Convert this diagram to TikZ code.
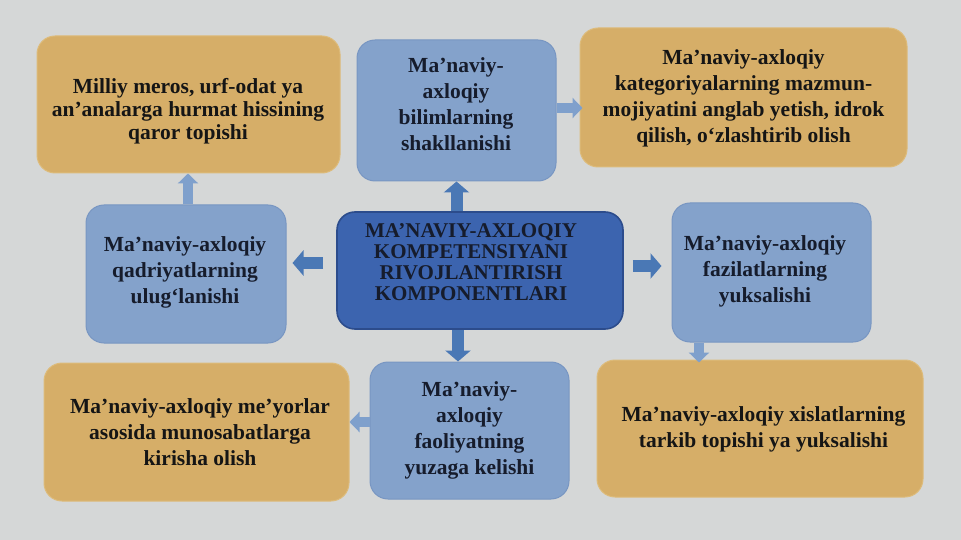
\documentclass[tikz,border=0pt]{standalone}
\usepackage{fontspec}
\setmainfont{Liberation Serif}
\usetikzlibrary{arrows.meta,calc}
\definecolor{bg}{HTML}{D5D7D7}
\definecolor{orangefill}{HTML}{D6AE68}
\definecolor{orangeline}{HTML}{DDBB7A}
\definecolor{bluefill}{HTML}{84A2CB}
\definecolor{blueline}{HTML}{7896C2}
\definecolor{centerfill}{HTML}{3C64AF}
\definecolor{centerline}{HTML}{2C4C8C}
\definecolor{darkarrow}{HTML}{4A78B5}
\definecolor{lightarrow}{HTML}{7FA0CC}
\definecolor{ink}{HTML}{151515}
\definecolor{navyink}{HTML}{161C2C}
\tikzset{
  box/.style={rounded corners=18pt, inner sep=0pt, line width=1pt},
  orangebox/.style={box, fill=orangefill, draw=orangeline},
  bluebox/.style={box, fill=bluefill, draw=blueline},
  centerbox/.style={box, fill=centerfill, draw=centerline, line width=1.6pt},
  txt/.style={align=center, inner sep=0pt, font=\bfseries\fontsize{21.5}{26}\selectfont},
  otxt/.style={txt, text=ink},
  btxt/.style={txt, text=navyink},
  darkarr/.style={draw=darkarrow, line width=12pt, -{Triangle[width=25pt,length=11pt]}},
  lightarr/.style={draw=lightarrow, line width=10pt, -{Triangle[width=20pt,length=10pt]}},
}
\begin{document}
\begin{tikzpicture}[x=1pt,y=-1pt]
\useasboundingbox (0,0) rectangle (961,540);
\fill[bg] (0,0) rectangle (961,540);

% boxes
\node[orangebox, minimum width=303pt, minimum height=137pt] (tl) at (188.5,104.5) {};
\node[bluebox, minimum width=199pt, minimum height=141pt] (top) at (456.5,110.5) {};
\node[orangebox, minimum width=327pt, minimum height=139pt] (tr) at (743.5,97.5) {};
\node[centerbox, minimum width=286pt, minimum height=117pt] (c) at (480,270.5) {};
\node[bluebox, minimum width=200pt, minimum height=138pt] (left) at (186,274) {};
\node[bluebox, minimum width=199pt, minimum height=139pt] (right) at (771.5,272.5) {};
\node[bluebox, minimum width=199pt, minimum height=137pt] (bot) at (469.5,430.5) {};
\node[orangebox, minimum width=305pt, minimum height=138pt] (bl) at (196.5,432) {};
\node[orangebox, minimum width=326pt, minimum height=137pt] (br) at (760,428.5) {};

% texts
\node[otxt, font=\bfseries\fontsize{21.5}{23}\selectfont] (tlt) at (188,111) {Milliy meros, urf-odat ya\\an’analarga hurmat hissining\\qaror topishi};
\node[btxt] (topt) at (456,104) {Ma’naviy-\\axloqiy\\bilimlarning\\shakllanishi};
\node[otxt] (trt) at (743.5,98) {Ma’naviy-axloqiy\\kategoriyalarning mazmun-\\mojiyatini anglab yetish, idrok\\qilish, o‘zlashtirib olish};
\node[txt, text=navyink, font=\bfseries\fontsize{21}{21}\selectfont] (ct) at (471,262) {MA’NAVIY-AXLOQIY\\KOMPETENSIYANI\\RIVOJLANTIRISH\\KOMPONENTLARI};
\node[btxt] (leftt) at (185,272) {Ma’naviy-axloqiy\\qadriyatlarning\\ulug‘lanishi};
\node[btxt] (rightt) at (765,271) {Ma’naviy-axloqiy\\fazilatlarning\\yuksalishi};
\node[btxt] (bott) at (469.5,430) {Ma’naviy-\\axloqiy\\faoliyatning\\yuzaga kelishi};
\node[otxt] (blt) at (200,432) {Ma’naviy-axloqiy me’yorlar\\asosida munosabatlarga\\kirisha olish};
\node[otxt] (brt) at (763.5,429) {Ma’naviy-axloqiy xislatlarning\\tarkib topishi ya yuksalishi};

% helper coordinates for arrow lines
\coordinate (yl) at (0,263);
\coordinate (yr) at (0,266);
\coordinate (ytr) at (0,108);
\coordinate (ybl) at (0,422);
\coordinate (xb) at (458,0);
\coordinate (xbr) at (699,0);
\coordinate (xtl) at (188,0);

% dark arrows from the centre
\draw[darkarr] (top.south |- c.north) -- (top.south);
\draw[darkarr] (xb |- c.south) -- (xb |- bot.north);
\draw[darkarr, shorten <=13pt, shorten >=6pt] (c.west |- yl) -- (left.east |- yl);
\draw[darkarr, shorten <=9pt, shorten >=10pt] (c.east |- yr) -- (right.west |- yr);

% light arrows
\draw[lightarr, shorten >=-3pt] (top.east |- ytr) -- (tr.west |- ytr);
\draw[lightarr] (xtl |- left.north) -- (xtl |- tl.south);
\draw[lightarr, shorten >=-3pt] (xbr |- right.south) -- (xbr |- br.north);
\draw[lightarr] (bot.west |- ybl) -- (bl.east |- ybl);
\end{tikzpicture}
\end{document}
